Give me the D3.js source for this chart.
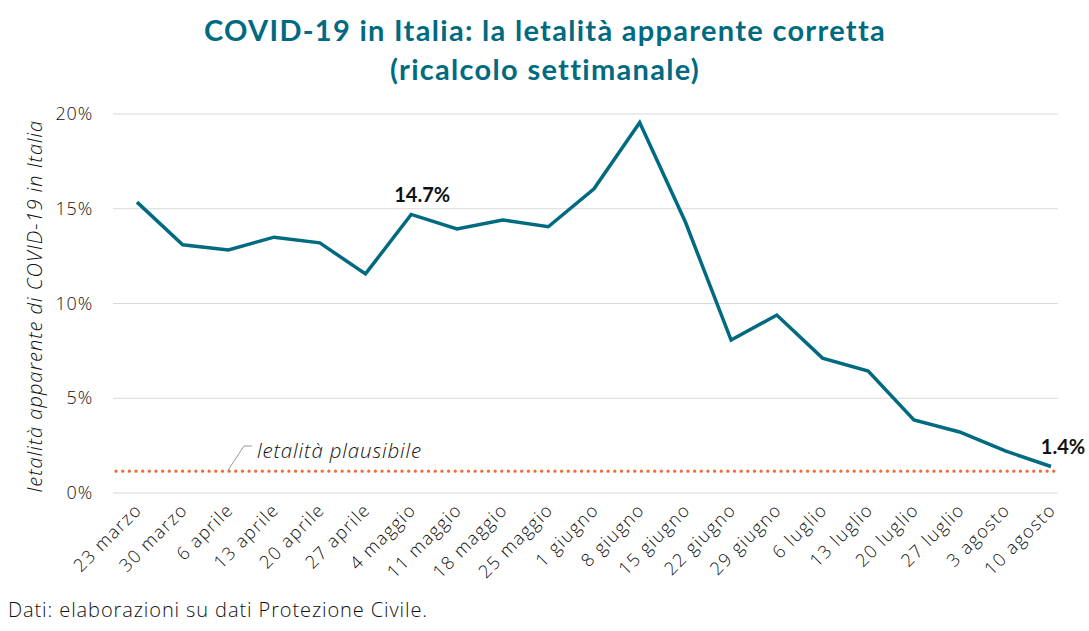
<!DOCTYPE html>
<html><head><meta charset="utf-8">
<script src="https://cdn.jsdelivr.net/npm/d3@7"></script>
<style>body{margin:0;background:#fff}svg{display:block}</style>
</head><body>
<svg id="c" width="1089" height="631"></svg>
<script>
const categories = ["23 marzo","30 marzo","6 aprile","13 aprile","20 aprile","27 aprile","4 maggio","11 maggio","18 maggio","25 maggio","1 giugno","8 giugno","15 giugno","22 giugno","29 giugno","6 luglio","13 luglio","20 luglio","27 luglio","3 agosto","10 agosto"];
const values = [15.35,13.1,12.83,13.5,13.2,11.56,14.7,13.93,14.41,14.05,16.05,19.55,14.3,8.07,9.39,7.12,6.44,3.85,3.22,2.22,1.4];
const plausible = 1.15;
const yTicks = [0,5,10,15,20];
const annotations = [{i:6,text:"14.7%"},{i:20,text:"1.4%"}];

const svg = d3.select("#c");
const color = "#006a80";
const x = d3.scalePoint().domain(categories).range([137,1051]);
const y = d3.scaleLinear().domain([0,20]).range([493,114]);
const F = "'Open Sans', sans-serif";

svg.append("g").selectAll("line").data(yTicks).join("line")
  .attr("x1",113).attr("x2",1058).attr("y1",d=>y(d)).attr("y2",d=>y(d))
  .attr("stroke","#d9d9d9").attr("stroke-width",1);

svg.append("g").selectAll("text").data(yTicks).join("text")
  .attr("x",93).attr("y",d=>y(d)+6).attr("text-anchor","end")
  .attr("font-family",F).attr("font-weight",300).attr("font-size",18).attr("letter-spacing",0.8).attr("fill","#111")
  .text(d=>d+"%");

svg.append("text").attr("transform","translate(42,306) rotate(-90)")
  .attr("text-anchor","middle").attr("font-family",F).attr("font-style","italic").attr("font-weight",300)
  .attr("font-size",20).attr("letter-spacing",1.0).attr("fill","#111").text("letalità apparente di COVID-19 in Italia");

svg.append("g").selectAll("text").data(categories).join("text")
  .attr("transform",d=>`translate(${x(d)+6},${511}) rotate(-45)`)
  .attr("text-anchor","end").attr("font-family",F).attr("font-weight",300)
  .attr("font-size",18).attr("letter-spacing",1.4).attr("fill","#111").text(d=>d);

svg.append("line").attr("x1",116).attr("x2",1055).attr("y1",y(plausible)).attr("y2",y(plausible))
  .attr("stroke","#f26b3a").attr("stroke-width",3.2).attr("stroke-linecap","round").attr("stroke-dasharray","0.1,6.55");
svg.append("line").attr("x1",228).attr("y1",y(plausible)-1).attr("x2",244).attr("y2",446)
  .attr("stroke","#999").attr("stroke-width",1);
svg.append("line").attr("x1",244).attr("y1",446).attr("x2",252).attr("y2",446)
  .attr("stroke","#999").attr("stroke-width",1);
svg.append("text").attr("x",257).attr("y",458).attr("font-family",F).attr("font-style","italic")
  .attr("font-weight",300).attr("font-size",20.5).attr("letter-spacing",0.85).attr("fill","#111").text("letalità plausibile");

svg.append("path").datum(values)
  .attr("d",d3.line().x((d,i)=>x(categories[i])).y(d=>y(d)))
  .attr("fill","none").attr("stroke",color).attr("stroke-width",3.5).attr("stroke-linejoin","miter");

svg.append("g").selectAll("text").data(annotations).join("text")
  .attr("x",d=>d.i===20?x(categories[d.i])+12:x(categories[d.i])+11)
  .attr("y",d=>y(values[d.i])-12)
  .attr("text-anchor","middle").attr("font-family","Lato, sans-serif").attr("font-weight",700)
  .attr("font-size",20).attr("fill","#111").text(d=>d.text);

svg.append("text").attr("x",545).attr("y",41).attr("text-anchor","middle")
  .attr("font-family","Lato, sans-serif").attr("font-weight",700).attr("font-size",29).attr("letter-spacing",1.3).attr("fill",color)
  .text("COVID-19 in Italia: la letalità apparente corretta");
svg.append("text").attr("x",545).attr("y",80).attr("text-anchor","middle")
  .attr("font-family","Lato, sans-serif").attr("font-weight",700).attr("font-size",29).attr("letter-spacing",1.3).attr("fill",color)
  .text("(ricalcolo settimanale)");

svg.append("text").attr("x",8).attr("y",617).attr("font-family",F).attr("font-weight",300)
  .attr("font-size",20).attr("letter-spacing",0.9).attr("fill","#111").text("Dati: elaborazioni su dati Protezione Civile.");
</script>
</body></html>
